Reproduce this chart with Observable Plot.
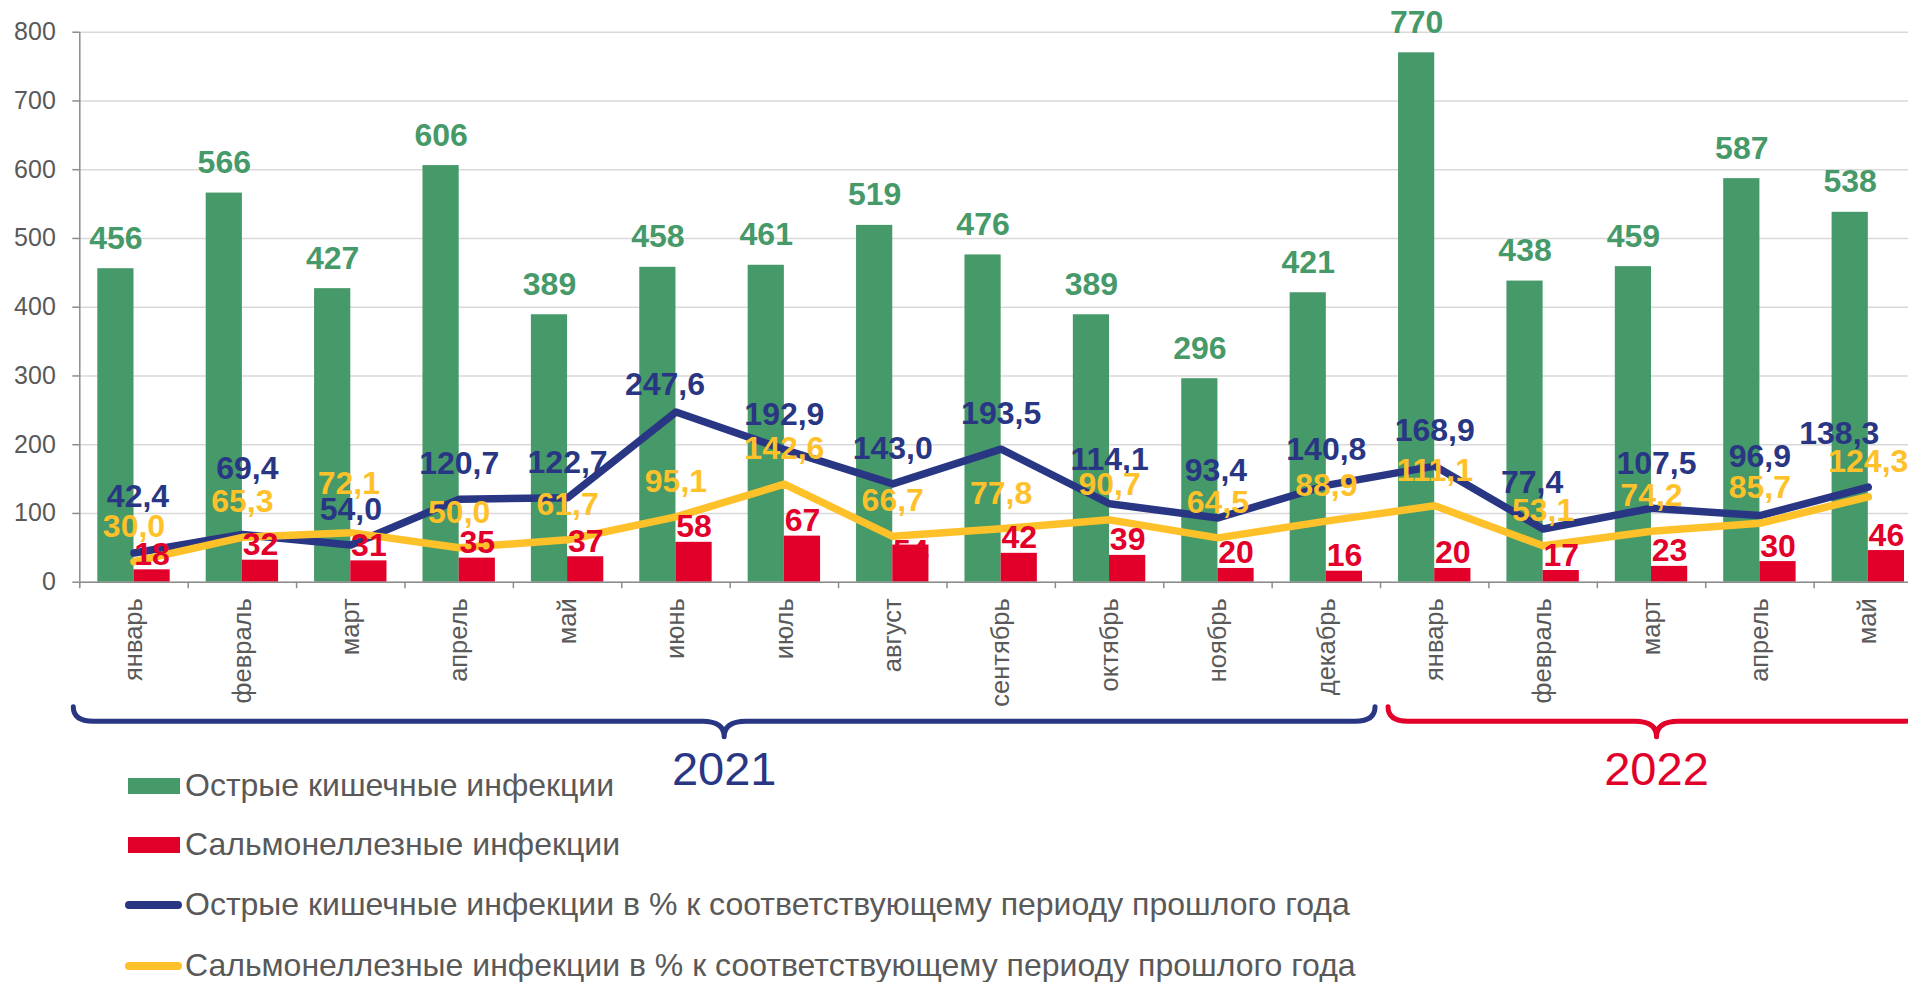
<!DOCTYPE html>
<html><head><meta charset="utf-8">
<script src="https://cdn.jsdelivr.net/npm/d3@7"></script>
<script src="https://cdn.jsdelivr.net/npm/@observablehq/plot@0.6"></script>
<style>
html,body{margin:0;padding:0;background:#fff;overflow:hidden;width:1908px;height:982px}
#wrap{position:relative;width:1908px;height:982px;font-family:"Liberation Sans",Arial,sans-serif}
#chart{position:absolute;left:0;top:0}
.sw{position:absolute}
.lt{position:absolute;left:185px;font-size:32px;line-height:32px;color:#595959;white-space:nowrap}
</style></head>
<body><div id="wrap"><div id="chart"></div><div id="legend"></div></div>
<script>
// ---- data ----
const monthLabels = ["январь","февраль","март","апрель","май","июнь","июль","август","сентябрь","октябрь","ноябрь","декабрь","январь","февраль","март","апрель","май"];
const periodYears = [2021,2021,2021,2021,2021,2021,2021,2021,2021,2021,2021,2021,2022,2022,2022,2022,2022];
const acuteIntestinal = [456,566,427,606,389,458,461,519,476,389,296,421,770,438,459,587,538];
const salmonellosis = [18,32,31,35,37,58,67,54,42,39,20,16,20,17,23,30,46];
const acuteIntestinalPct = [42.4,69.4,54.0,120.7,122.7,247.6,192.9,143.0,193.5,114.1,93.4,140.8,168.9,77.4,107.5,96.9,138.3];
const salmonellosisPct = [30.0,65.3,72.1,50.0,61.7,95.1,142.6,66.7,77.8,90.7,64.5,88.9,111.1,53.1,74.2,85.7,124.3];
const yTicks = [0,100,200,300,400,500,600,700,800];
const yearLabels = ["2021","2022"];
const seriesNames = [
  "Острые кишечные инфекции",
  "Сальмонеллезные инфекции",
  "Острые кишечные инфекции в % к соответствующему периоду прошлого года",
  "Сальмонеллезные инфекции в % к соответствующему периоду прошлого года"
];

// ---- styles ----
const C = {green:"#469968", red:"#E2002A", blue:"#293684", yellow:"#FEC12A", grid:"#d9d9d9", axis:"#8c8c8c", text:"#595959"};
const yearColors = [C.blue, C.red];
const braceInset = [[-6,-5],[8,3]];
const labelSize = 32;
// label nudges (dx, dy in px) for crowded data labels
const blueNudge = {0:[4,-46],1:[5,-55],5:[-11,-17],9:[0,-34],10:[-2,-37],13:[-11,-36],14:[5,-34],15:[0,-49],16:[-29,-43]};
const yellowNudge = {2:[-2,-39]};
const redNudge = {7:[0,16.5]};

const rows = monthLabels.map((m,i)=>({key:i, month:m, year:periodYears[i],
  oki:acuteIntestinal[i], sal:salmonellosis[i], okiPct:acuteIntestinalPct[i], salPct:salmonellosisPct[i]}));

const W = 1908, H = 800;
const xRange = [79.3, 1922];
const bw = (xRange[1]-xRange[0]) / rows.length;
const barPad = 18;
const fmtInt = v => String(v);
const fmt1 = v => d3.format(".1f")(v).replace(".", ",");

function labels(field, fmt, color, baseDx, baseDy, nudge) {
  const out = [Plot.text(rows, {x:"key", y:field, text:d=>fmt(d[field]), fill:color, fontSize:labelSize, fontWeight:"bold",
    lineAnchor:"bottom", dx:baseDx, dy:baseDy, filter:d=>!(d.key in nudge)})];
  for (const k of Object.keys(nudge)) {
    const [ndx, ndy] = nudge[k];
    out.push(Plot.text(rows, {x:"key", y:field, text:d=>fmt(d[field]), fill:color, fontSize:labelSize, fontWeight:"bold",
      lineAnchor:"bottom", dx:baseDx+ndx, dy:ndy, filter:d=>d.key === +k}));
  }
  return out;
}

function braces(index, scales, values, dims) {
  const g = d3.create("svg:g");
  const x = scales.x, y0 = scales.y(0);
  const yTop = y0 + 125, yH = y0 + 139.5, yTip = y0 + 155, yText = y0 + 187;
  yearLabels.forEach((yr, gi) => {
    const keys = rows.filter(r => String(r.year) === yr).map(r => r.key);
    const x0 = x(keys[0]) + braceInset[gi][0];
    const x1 = x(keys[keys.length-1]) + bw + braceInset[gi][1];
    const xm = (x0 + x1) / 2, r = 20, rm = 22;
    const p = `M${x0},${yTop} Q${x0},${yH} ${x0+r},${yH} L${xm-rm},${yH} Q${xm},${yH} ${xm},${yTip} Q${xm},${yH} ${xm+rm},${yH} L${x1-r},${yH} Q${x1},${yH} ${x1},${yTop}`;
    g.append("path").attr("d", p).attr("fill","none").attr("stroke", yearColors[gi]).attr("stroke-width", 5).attr("stroke-linecap","round").attr("stroke-linejoin","round");
    g.append("text").attr("x", xm).attr("y", yText).attr("text-anchor","middle").attr("dominant-baseline","central")
      .attr("fill", yearColors[gi]).attr("font-size", 47).text(yr);
  });
  return g.node();
}

const chart = Plot.plot({
  width: W, height: H,
  marginLeft: xRange[0], marginRight: 0, marginTop: 31.7, marginBottom: H - 581.7,
  style: {fontFamily: '"Liberation Sans", Arial, sans-serif', background: "#fff"},
  x: {type:"band", domain: rows.map(d=>d.key), range: xRange, padding: 0, round: false, label: null},
  y: {domain: [0, 800], round: false, label: null},
  marks: [
    Plot.gridY(yTicks, {stroke: C.grid, strokeOpacity: 1, strokeWidth: 1.6}),
    Plot.barY(rows, {x:"key", y:"oki", fill:C.green, insetLeft: barPad, insetRight: bw/2}),
    Plot.barY(rows, {x:"key", y:"sal", fill:C.red, insetLeft: bw/2, insetRight: barPad}),
    Plot.ruleY([0], {stroke: C.axis, strokeWidth: 1.5}),
    Plot.ruleX([rows[0]], {x:"key", dx: -bw/2, y1: 0, y2: 800, stroke: C.axis, strokeWidth: 1.5}),
    Plot.ruleX(rows, {x:"key", dx: -bw/2, y1: 0, y2: 0, insetBottom: -6.5, stroke: C.axis, strokeWidth: 1.5}),
    Plot.axisY(yTicks, {tickSize: 7, tickPadding: 17, fontSize: 25, fill: C.text, stroke: C.axis, strokeWidth: 1.5, tickFormat: d=>String(d), label: null}),
    Plot.axisX({tickSize: 0, tickPadding: 16, tickRotate: -90, fontSize: 25.5, fill: C.text, tickFormat: i => monthLabels[i], label: null}),
    Plot.line(rows, {x:"key", y:"okiPct", stroke:C.blue, strokeWidth: 7.5, strokeLinecap:"round", strokeLinejoin:"round"}),
    Plot.line(rows, {x:"key", y:"salPct", stroke:C.yellow, strokeWidth: 7.5, strokeLinecap:"round", strokeLinejoin:"round"}),
    ...labels("oki", fmtInt, C.green, -(bw/4 - barPad/2), -20, {}),
    ...labels("sal", fmtInt, C.red, (bw/4 - barPad/2), -5, redNudge),
    ...labels("okiPct", fmt1, C.blue, 0, -25, blueNudge),
    ...labels("salPct", fmt1, C.yellow, 0, -25, yellowNudge),
    braces
  ]
});
document.getElementById("chart").append(chart);

// ---- legend ----
const legendItems = [
  {name: seriesNames[0], color: C.green, kind: "rect"},
  {name: seriesNames[1], color: C.red, kind: "rect"},
  {name: seriesNames[2], color: C.blue, kind: "line"},
  {name: seriesNames[3], color: C.yellow, kind: "line"}
];
const legendY = [786, 845, 905, 966];
const leg = document.getElementById("legend");
legendItems.forEach((it, i) => {
  const cy = legendY[i];
  const sw = document.createElement("div");
  sw.className = "sw";
  if (it.kind === "rect") {
    Object.assign(sw.style, {left:"127.5px", top:(cy-8)+"px", width:"52px", height:"16px", background: it.color});
  } else {
    Object.assign(sw.style, {left:"125px", top:(cy-4)+"px", width:"57px", height:"8px", background: it.color, borderRadius:"4px"});
  }
  const t = document.createElement("div");
  t.className = "lt";
  t.style.top = (cy-17)+"px";
  t.textContent = it.name;
  leg.append(sw, t);
});
</script>
</body></html>
